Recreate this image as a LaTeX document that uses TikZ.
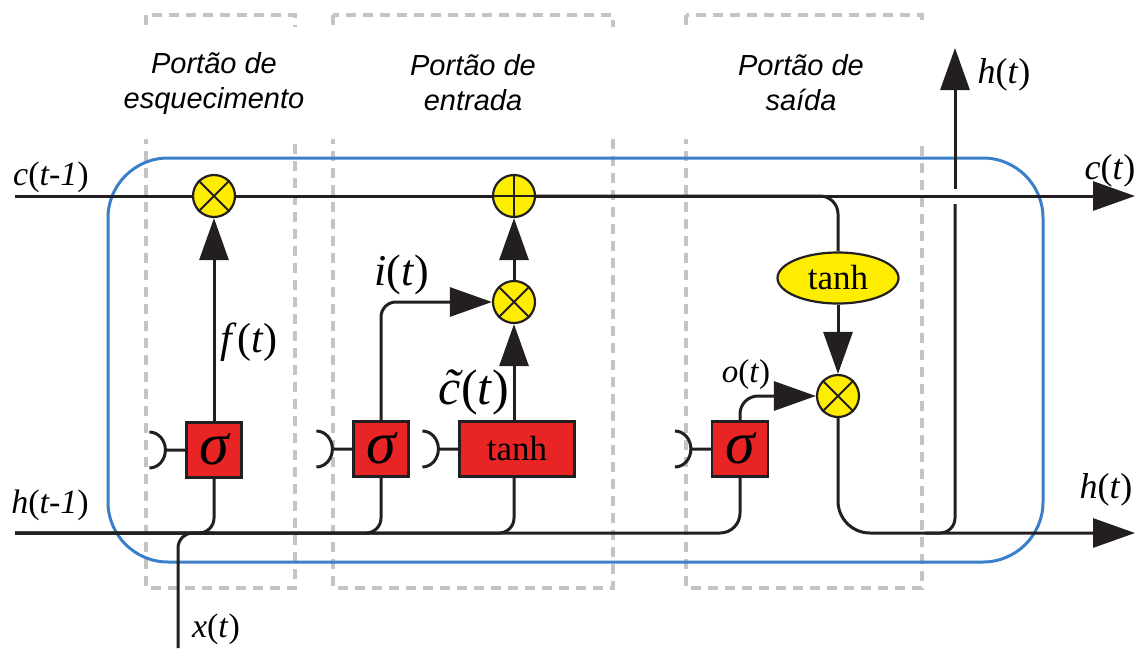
\documentclass[tikz,border=0pt]{standalone}
\usepackage{fontspec}
\setmainfont{Liberation Serif}
\setsansfont{Liberation Sans}
\usetikzlibrary{arrows.meta,shapes.geometric}
\definecolor{gatered}{RGB}{232,37,36}
\definecolor{opyellow}{RGB}{255,237,0}
\definecolor{cellblue}{RGB}{58,128,200}
\definecolor{gategray}{RGB}{196,196,196}
\definecolor{wireblack}{RGB}{35,31,32}
\tikzset{
  wire/.style={draw=wireblack,line width=3pt},
  flow/.style={wire,-{Triangle[length=42pt,width=29pt]}},
  actbox/.style={draw=wireblack,line width=2.2pt,fill=gatered,minimum height=55pt,inner sep=0pt},
  opcirc/.style={circle,draw=wireblack,line width=2.2pt,fill=opyellow,minimum size=42pt,inner sep=0pt},
  gatebox/.style={draw=gategray,line width=3.5pt,dash pattern=on 10pt off 7pt},
  gatetitle/.style={fill=white,align=center,minimum height=112pt,inner sep=0pt,font=\sffamily\itshape\fontsize{29}{35}\selectfont},
  var/.style={inner sep=0pt,font=\fontsize{36}{36}\selectfont},
}
\begin{document}
\begin{tikzpicture}[x=1pt,y=-1pt]
\useasboundingbox (0,0) rectangle (1137,648);
% gates
\draw[gatebox] (146,15) rectangle (295,588);
\draw[gatebox] (333,15) rectangle (613,588);
\draw[gatebox] (686,15) rectangle (922,588);
\node[gatetitle,minimum width=195pt] (tforget) at (214,83) {Portão de\\esquecimento};
\node[gatetitle,minimum width=295pt] (tinput) at (473,83) {Portão de\\entrada};
\node[gatetitle,minimum width=250pt] (toutput) at (801,83) {Portão de\\saída};
% cell
\draw[cellblue,line width=3pt,rounded corners=60pt] (108,158) rectangle (1043,562);
% activations
\node[actbox,minimum width=55pt] (fsig) at (214,450) {\raisebox{2pt}{\fontsize{60}{60}\selectfont\itshape σ}};
\node[actbox,minimum width=55pt] (isig) at (381,449) {\raisebox{2pt}{\fontsize{60}{60}\selectfont\itshape σ}};
\node[actbox,minimum width=115pt] (ctanh) at (517,449) {\fontsize{35}{35}\selectfont tanh};
\node[actbox,minimum width=56pt] (osig) at (740,449) {\raisebox{2pt}{\fontsize{60}{60}\selectfont\itshape σ}};
\node[ellipse,draw=wireblack,line width=2.2pt,fill=opyellow,minimum width=121pt,minimum height=51pt,inner sep=0pt] (htanh) at (838,278) {\fontsize{35}{35}\selectfont tanh};
% operations
\node[opcirc] (fmul) at (214,196) {};
\node[opcirc] (cadd) at (514,196) {};
\node[opcirc] (imul) at (514,302) {};
\node[opcirc] (omul) at (838,396) {};
\foreach \m in {fmul,imul,omul}
  \draw[wireblack,line width=2pt] (\m.north west) -- (\m.south east) (\m.north east) -- (\m.south west);
\draw[wireblack,line width=2pt] (cadd.north) -- (cadd.south) (cadd.west) -- (cadd.east);
% bias
\foreach \g in {fsig,isig,ctanh,osig} {
  \draw[wire] (\g.west) -- ++(-20,0) arc[start angle=0,end angle=90,x radius=16pt,y radius=18pt];
  \draw[wire] (\g.west) ++(-20,0) arc[start angle=0,end angle=-90,x radius=16pt,y radius=18pt];
}
\coordinate (cin) at (15,196);
\coordinate (cout) at (1135,196);
\coordinate (hin) at (15,533);
\coordinate (hout) at (1135,533);
\coordinate (xin) at (178,648);
\coordinate (hjoin) at (925,533);
\coordinate (hgapbot) at (955,204);
\coordinate (hgaptop) at (955,189);
\coordinate (hup) at (955,48);
% cell state
\draw[wire] (cin) -- (fmul);
\draw[wire] (fmul) -- (cadd);
\draw[flow] (cadd) -- (cout);
\draw[wire,rounded corners=18pt] (cadd) -| (htanh);
% hidden state and input
\draw[wire,rounded corners=20pt] (osig) |- (hin);
\draw[wire,rounded corners=15pt] (imul |- ctanh.south) |- (hin);
\draw[wire,rounded corners=15pt] (isig) |- (hin);
\draw[wire,rounded corners=15pt] (fsig) |- (hin);
\draw[wire,rounded corners=15pt] (xin) |- (fsig |- hin);
% gate outputs
\draw[flow] (fsig) -- (fmul);
\draw[flow,rounded corners=15pt] (isig) |- (imul);
\draw[flow] (imul |- ctanh.north) -- (imul);
\draw[flow] (imul) -- (cadd);
\draw[flow,rounded corners=18pt] (osig) |- (omul);
\draw[flow] (htanh) -- (omul);
% output
\draw[flow,rounded corners=32pt] (omul) |- (hout);
\draw[wire,rounded corners=15pt] (hjoin) -| (hgapbot);
\draw[flow] (hgaptop) -- (hup);
% labels
\node[var,font=\fontsize{34}{34}\selectfont] (clast) at (51,177) {\textit{c}(\textit{t-1})};
\node[var,font=\fontsize{34}{34}\selectfont] (hlast) at (50,505) {\textit{h}(\textit{t-1})};
\node[var] (cnext) at (1110,171) {\textit{c}(\textit{t})};
\node[var] (htop) at (1004,75) {\textit{h}(\textit{t})};
\node[var] (hnext) at (1106,490) {\textit{h}(\textit{t})};
\node[var,font=\fontsize{42}{42}\selectfont] (flab) at (249,342) {\textit{f}(\textit{t})};
\node[var,font=\fontsize{44}{44}\selectfont] (ilab) at (402,275) {\textit{i}(\textit{t})};
\node[var,font=\fontsize{50}{50}\selectfont] (clab) at (474,392) {\textit{\rlap{\kern0.1em\raisebox{0.02em}{˜}}c}(\textit{t})};
\node[var,font=\fontsize{33}{33}\selectfont] (olab) at (746,375) {\textit{o}(\textit{t})};
\node[var,font=\fontsize{34}{34}\selectfont] (xlab) at (216,629) {\textit{x}(\textit{t})};
\end{tikzpicture}
\end{document}
